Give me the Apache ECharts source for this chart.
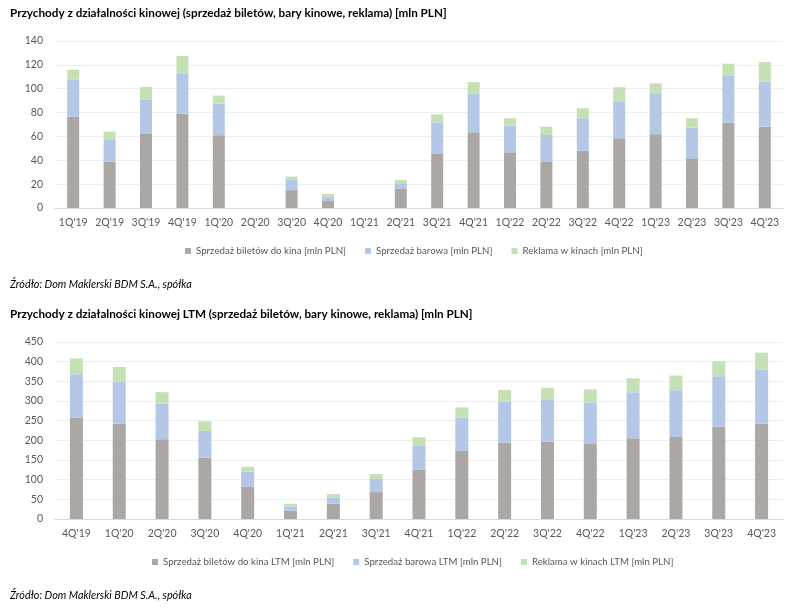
<!DOCTYPE html>
<html><head><meta charset="utf-8">
<script src="https://cdn.jsdelivr.net/npm/echarts@6/dist/echarts.min.js"></script>
<style>html,body{margin:0;padding:0;background:#fff}#c{width:800px;height:608px}</style>
</head><body><div id="c"></div>
<script>
const quarters = ["1Q'19","2Q'19","3Q'19","4Q'19","1Q'20","2Q'20","3Q'20","4Q'20","1Q'21","2Q'21","3Q'21","4Q'21","1Q'22","2Q'22","3Q'22","4Q'22","1Q'23","2Q'23","3Q'23","4Q'23"];
const tickets = [76.5,39,62.6,79,61,0,15,6,0,16,45.3,63.5,46.7,38.6,48,58.4,61.8,41.7,71.5,68.2];
const bar = [31,18,28.5,34,26.5,0,8.5,3.5,0,4.8,26.5,32,22.3,22.6,27.2,31,33.8,25.6,39.7,37.7];
const ads = [8.5,7,10.3,14.5,6.7,0,2.8,2.2,0,2.8,6.7,10,6.2,7,8.4,11.8,8.9,7.9,9.8,16.5];

const ltmQuarters = ["4Q'19","1Q'20","2Q'20","3Q'20","4Q'20","1Q'21","2Q'21","3Q'21","4Q'21","1Q'22","2Q'22","3Q'22","4Q'22","1Q'23","2Q'23","3Q'23","4Q'23"];
const ltmTickets = [257,243,203,156,82.6,21,38.8,68.4,125,173,194,196,191,205,208.5,234.6,243];
const ltmBar = [111,105,90,68,38,11,16,33.6,62.5,84.4,104,106.5,105.6,117.3,119,128.4,137];
const ltmAds = [40,38.7,29.5,24.6,12,6.8,8.6,12,20.2,26.3,29.6,31,33,35.5,37.2,38,43];

const topTicks = [0,20,40,60,80,100,120,140];
const botTicks = [0,50,100,150,200,250,300,350,400,450];

const C1 = '#aba7a5', C2 = '#b4c7e7', C3 = '#c5e0b4';
const FONT = 'Lato';
const chart = echarts.init(document.getElementById('c'));
const axisLbl = {color:'#595959', fontSize:10.5, fontFamily:FONT};
const mkX = (gi, data) => ({type:'category', gridIndex:gi, data,
  axisLine:{lineStyle:{color:'#d9d9d9'}}, axisTick:{show:false}, axisLabel:Object.assign({margin:9, interval:0}, axisLbl)});
const mkY = (gi, ticks) => ({type:'value', gridIndex:gi, min:ticks[0], max:ticks[ticks.length-1], interval:ticks[1]-ticks[0],
  axisLine:{show:false}, axisTick:{show:false}, splitLine:{lineStyle:{color:'#eeeeee'}}, axisLabel:Object.assign({margin:12}, axisLbl)});
const mkS = (name, data, color, gi, w) => ({name, type:'bar', stack:'s'+gi, xAxisIndex:gi, yAxisIndex:gi, data, barWidth:w,
  itemStyle:{color}, emphasis:{disabled:true}});
const legendBase = {itemWidth:6, itemHeight:6, itemGap:19, icon:'rect', textStyle:{color:'#595959', fontSize:9.7, fontFamily:FONT}};

chart.setOption({
  animation:false,
  title:[
    {text:'Przychody z działalności kinowej (sprzedaż biletów, bary kinowe, reklama) [mln PLN]', left:5, top:2, textStyle:{fontSize:11.7, fontWeight:'bold', color:'#000', fontFamily:FONT}},
    {text:'Źródło: Dom Maklerski BDM S.A., spółka', left:5, top:274, textStyle:{fontSize:10.8, fontWeight:'normal', fontStyle:'italic', color:'#000', fontFamily:FONT}},
    {text:'Przychody z działalności kinowej LTM (sprzedaż biletów, bary kinowe, reklama) [mln PLN]', left:5, top:303, textStyle:{fontSize:11.7, fontWeight:'bold', color:'#000', fontFamily:FONT}},
    {text:'Źródło: Dom Maklerski BDM S.A., spółka', left:5, top:585, textStyle:{fontSize:10.8, fontWeight:'normal', fontStyle:'italic', color:'#000', fontFamily:FONT}}
  ],
  grid:[
    {left:55, right:17, top:41, height:167},
    {left:55, right:17, top:342, height:177}
  ],
  legend:[
    Object.assign({top:241, left:180, data:['Sprzedaż biletów do kina [mln PLN]','Sprzedaż barowa [mln PLN]','Reklama w kinach [mln PLN]']}, legendBase),
    Object.assign({top:552, left:147, data:['Sprzedaż biletów do kina LTM [mln PLN]','Sprzedaż barowa LTM [mln PLN]','Reklama w kinach LTM [mln PLN]']}, legendBase)
  ],
  xAxis:[mkX(0, quarters), mkX(1, ltmQuarters)],
  yAxis:[mkY(0, topTicks), mkY(1, botTicks)],
  series:[
    mkS('Sprzedaż biletów do kina [mln PLN]', tickets, C1, 0, 12),
    mkS('Sprzedaż barowa [mln PLN]', bar, C2, 0, 12),
    mkS('Reklama w kinach [mln PLN]', ads, C3, 0, 12),
    mkS('Sprzedaż biletów do kina LTM [mln PLN]', ltmTickets, C1, 1, 13),
    mkS('Sprzedaż barowa LTM [mln PLN]', ltmBar, C2, 1, 13),
    mkS('Reklama w kinach LTM [mln PLN]', ltmAds, C3, 1, 13)
  ]
});
</script></body></html>
